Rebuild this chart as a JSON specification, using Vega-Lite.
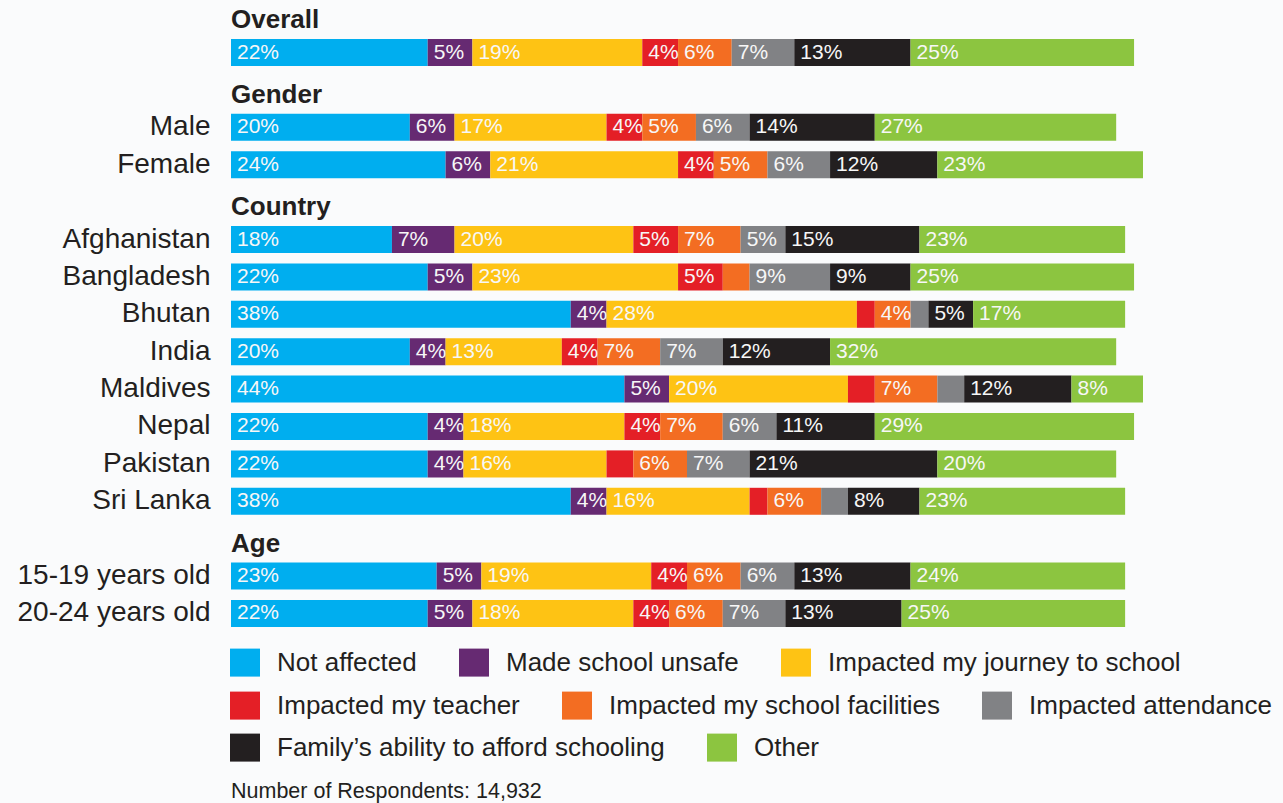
{
  "$schema": "https://vega.github.io/schema/vega-lite/v6.json",
  "autosize": {"type": "none"},
  "width": 912,
  "height": 625.4,
  "padding": {"left": 231, "top": 1.6, "right": 140, "bottom": 176},
  "background": "#fafbfc",
  "config": {
    "view": {"stroke": null},
    "font": "Liberation Sans",
    "legend": {
      "orient": "none",
      "legendX": 0,
      "direction": "horizontal",
      "padding": 0,
      "symbolType": "M-1.07,-1H1.07V1H-1.07Z",
      "symbolSize": 784,
      "symbolStrokeWidth": 0,
      "symbolOpacity": 1,
      "labelFontSize": 26,
      "labelColor": "#231f20",
      "labelOffset": 18,
      "labelLimit": 0,
      "columnPadding": 42,
      "titleLimit": 1000
    }
  },
  "resolve": {"scale": {"color": "independent"}},
  "datasets": {
    "cats": [
      {"o": 1, "cat": "Not affected"},
      {"o": 2, "cat": "Made school unsafe"},
      {"o": 3, "cat": "Impacted my journey to school"},
      {"o": 4, "cat": "Impacted my teacher"},
      {"o": 5, "cat": "Impacted my school facilities"},
      {"o": 6, "cat": "Impacted attendance"},
      {"o": 7, "cat": "Family’s ability to afford schooling"},
      {"o": 8, "cat": "Other"}
    ],
    "heads": [
      {"r": "#Overall", "t": "Overall"},
      {"r": "#Gender", "t": "Gender"},
      {"r": "#Country", "t": "Country"},
      {"r": "#Age", "t": "Age"}
    ],
    "vals": [
      {"r": "Overall", "o": 1, "v": 22, "l": "22%"},
      {"r": "Overall", "o": 2, "v": 5, "l": "5%"},
      {"r": "Overall", "o": 3, "v": 19, "l": "19%"},
      {"r": "Overall", "o": 4, "v": 4, "l": "4%"},
      {"r": "Overall", "o": 5, "v": 6, "l": "6%"},
      {"r": "Overall", "o": 6, "v": 7, "l": "7%"},
      {"r": "Overall", "o": 7, "v": 13, "l": "13%"},
      {"r": "Overall", "o": 8, "v": 25, "l": "25%"},
      {"r": "Male", "o": 1, "v": 20, "l": "20%"},
      {"r": "Male", "o": 2, "v": 5, "l": "6%"},
      {"r": "Male", "o": 3, "v": 17, "l": "17%"},
      {"r": "Male", "o": 4, "v": 4, "l": "4%"},
      {"r": "Male", "o": 5, "v": 6, "l": "5%"},
      {"r": "Male", "o": 6, "v": 6, "l": "6%"},
      {"r": "Male", "o": 7, "v": 14, "l": "14%"},
      {"r": "Male", "o": 8, "v": 27, "l": "27%"},
      {"r": "Female", "o": 1, "v": 24, "l": "24%"},
      {"r": "Female", "o": 2, "v": 5, "l": "6%"},
      {"r": "Female", "o": 3, "v": 21, "l": "21%"},
      {"r": "Female", "o": 4, "v": 4, "l": "4%"},
      {"r": "Female", "o": 5, "v": 6, "l": "5%"},
      {"r": "Female", "o": 6, "v": 7, "l": "6%"},
      {"r": "Female", "o": 7, "v": 12, "l": "12%"},
      {"r": "Female", "o": 8, "v": 23, "l": "23%"},
      {"r": "Afghanistan", "o": 1, "v": 18, "l": "18%"},
      {"r": "Afghanistan", "o": 2, "v": 7, "l": "7%"},
      {"r": "Afghanistan", "o": 3, "v": 20, "l": "20%"},
      {"r": "Afghanistan", "o": 4, "v": 5, "l": "5%"},
      {"r": "Afghanistan", "o": 5, "v": 7, "l": "7%"},
      {"r": "Afghanistan", "o": 6, "v": 5, "l": "5%"},
      {"r": "Afghanistan", "o": 7, "v": 15, "l": "15%"},
      {"r": "Afghanistan", "o": 8, "v": 23, "l": "23%"},
      {"r": "Bangladesh", "o": 1, "v": 22, "l": "22%"},
      {"r": "Bangladesh", "o": 2, "v": 5, "l": "5%"},
      {"r": "Bangladesh", "o": 3, "v": 23, "l": "23%"},
      {"r": "Bangladesh", "o": 4, "v": 5, "l": "5%"},
      {"r": "Bangladesh", "o": 5, "v": 3, "l": ""},
      {"r": "Bangladesh", "o": 6, "v": 9, "l": "9%"},
      {"r": "Bangladesh", "o": 7, "v": 9, "l": "9%"},
      {"r": "Bangladesh", "o": 8, "v": 25, "l": "25%"},
      {"r": "Bhutan", "o": 1, "v": 38, "l": "38%"},
      {"r": "Bhutan", "o": 2, "v": 4, "l": "4%"},
      {"r": "Bhutan", "o": 3, "v": 28, "l": "28%"},
      {"r": "Bhutan", "o": 4, "v": 2, "l": ""},
      {"r": "Bhutan", "o": 5, "v": 4, "l": "4%"},
      {"r": "Bhutan", "o": 6, "v": 2, "l": ""},
      {"r": "Bhutan", "o": 7, "v": 5, "l": "5%"},
      {"r": "Bhutan", "o": 8, "v": 17, "l": "17%"},
      {"r": "India", "o": 1, "v": 20, "l": "20%"},
      {"r": "India", "o": 2, "v": 4, "l": "4%"},
      {"r": "India", "o": 3, "v": 13, "l": "13%"},
      {"r": "India", "o": 4, "v": 4, "l": "4%"},
      {"r": "India", "o": 5, "v": 7, "l": "7%"},
      {"r": "India", "o": 6, "v": 7, "l": "7%"},
      {"r": "India", "o": 7, "v": 12, "l": "12%"},
      {"r": "India", "o": 8, "v": 32, "l": "32%"},
      {"r": "Maldives", "o": 1, "v": 44, "l": "44%"},
      {"r": "Maldives", "o": 2, "v": 5, "l": "5%"},
      {"r": "Maldives", "o": 3, "v": 20, "l": "20%"},
      {"r": "Maldives", "o": 4, "v": 3, "l": ""},
      {"r": "Maldives", "o": 5, "v": 7, "l": "7%"},
      {"r": "Maldives", "o": 6, "v": 3, "l": ""},
      {"r": "Maldives", "o": 7, "v": 12, "l": "12%"},
      {"r": "Maldives", "o": 8, "v": 8, "l": "8%"},
      {"r": "Nepal", "o": 1, "v": 22, "l": "22%"},
      {"r": "Nepal", "o": 2, "v": 4, "l": "4%"},
      {"r": "Nepal", "o": 3, "v": 18, "l": "18%"},
      {"r": "Nepal", "o": 4, "v": 4, "l": "4%"},
      {"r": "Nepal", "o": 5, "v": 7, "l": "7%"},
      {"r": "Nepal", "o": 6, "v": 6, "l": "6%"},
      {"r": "Nepal", "o": 7, "v": 11, "l": "11%"},
      {"r": "Nepal", "o": 8, "v": 29, "l": "29%"},
      {"r": "Pakistan", "o": 1, "v": 22, "l": "22%"},
      {"r": "Pakistan", "o": 2, "v": 4, "l": "4%"},
      {"r": "Pakistan", "o": 3, "v": 16, "l": "16%"},
      {"r": "Pakistan", "o": 4, "v": 3, "l": ""},
      {"r": "Pakistan", "o": 5, "v": 6, "l": "6%"},
      {"r": "Pakistan", "o": 6, "v": 7, "l": "7%"},
      {"r": "Pakistan", "o": 7, "v": 21, "l": "21%"},
      {"r": "Pakistan", "o": 8, "v": 20, "l": "20%"},
      {"r": "Sri Lanka", "o": 1, "v": 38, "l": "38%"},
      {"r": "Sri Lanka", "o": 2, "v": 4, "l": "4%"},
      {"r": "Sri Lanka", "o": 3, "v": 16, "l": "16%"},
      {"r": "Sri Lanka", "o": 4, "v": 2, "l": ""},
      {"r": "Sri Lanka", "o": 5, "v": 6, "l": "6%"},
      {"r": "Sri Lanka", "o": 6, "v": 3, "l": ""},
      {"r": "Sri Lanka", "o": 7, "v": 8, "l": "8%"},
      {"r": "Sri Lanka", "o": 8, "v": 23, "l": "23%"},
      {"r": "15-19 years old", "o": 1, "v": 23, "l": "23%"},
      {"r": "15-19 years old", "o": 2, "v": 5, "l": "5%"},
      {"r": "15-19 years old", "o": 3, "v": 19, "l": "19%"},
      {"r": "15-19 years old", "o": 4, "v": 4, "l": "4%"},
      {"r": "15-19 years old", "o": 5, "v": 6, "l": "6%"},
      {"r": "15-19 years old", "o": 6, "v": 6, "l": "6%"},
      {"r": "15-19 years old", "o": 7, "v": 13, "l": "13%"},
      {"r": "15-19 years old", "o": 8, "v": 24, "l": "24%"},
      {"r": "20-24 years old", "o": 1, "v": 22, "l": "22%"},
      {"r": "20-24 years old", "o": 2, "v": 5, "l": "5%"},
      {"r": "20-24 years old", "o": 3, "v": 18, "l": "18%"},
      {"r": "20-24 years old", "o": 4, "v": 4, "l": "4%"},
      {"r": "20-24 years old", "o": 5, "v": 6, "l": "6%"},
      {"r": "20-24 years old", "o": 6, "v": 7, "l": "7%"},
      {"r": "20-24 years old", "o": 7, "v": 13, "l": "13%"},
      {"r": "20-24 years old", "o": 8, "v": 25, "l": "25%"}
    ]
  },
  "data": {"name": "vals"},
  "transform": [
    {"lookup": "o", "from": {"data": {"name": "cats"}, "key": "o", "fields": ["cat"]}},
    {"stack": "v", "groupby": ["r"], "sort": [{"field": "o", "order": "ascending"}], "as": ["x0", "x1"]}
  ],
  "layer": [
    {
      "transform": [{"filter": "datum.o <= 3"}],
      "mark": {"type": "bar"},
      "encoding": {
        "y": {
          "field": "r",
          "type": "nominal",
          "scale": {
            "domain": ["#Overall", "Overall", "#Gender", "Male", "Female", "#Country", "Afghanistan", "Bangladesh", "Bhutan", "India", "Maldives", "Nepal", "Pakistan", "Sri Lanka", "#Age", "15-19 years old", "20-24 years old"],
            "paddingInner": 0.278,
            "paddingOuter": 0
          },
          "axis": {
            "title": null,
            "domain": false,
            "ticks": false,
            "labelFontSize": 28,
            "labelColor": "#231f20",
            "labelPadding": 21,
            "labelLimit": 0,
            "labelExpr": "indexof(datum.value, '#') == 0 || datum.value == 'Overall' ? '' : datum.value"
          }
        },
        "x": {"field": "x0", "type": "quantitative", "scale": {"domain": [0, 102], "nice": false}, "axis": null},
        "x2": {"field": "x1"},
        "color": {
          "field": "cat",
          "type": "nominal",
          "scale": {
            "domain": ["Not affected", "Made school unsafe", "Impacted my journey to school"],
            "range": ["#00aeef", "#662a72", "#fec314"]
          },
          "legend": {"title": null, "legendY": 647}
        }
      }
    },
    {
      "transform": [{"filter": "datum.o >= 4 && datum.o <= 6"}],
      "mark": {"type": "bar"},
      "encoding": {
        "y": {"field": "r", "type": "nominal"},
        "x": {"field": "x0", "type": "quantitative"},
        "x2": {"field": "x1"},
        "color": {
          "field": "cat",
          "type": "nominal",
          "scale": {
            "domain": ["Impacted my teacher", "Impacted my school facilities", "Impacted attendance"],
            "range": ["#e41f26", "#f36d22", "#818285"]
          },
          "legend": {"title": null, "legendY": 690}
        }
      }
    },
    {
      "transform": [{"filter": "datum.o >= 7"}],
      "mark": {"type": "bar"},
      "encoding": {
        "y": {"field": "r", "type": "nominal"},
        "x": {"field": "x0", "type": "quantitative"},
        "x2": {"field": "x1"},
        "color": {
          "field": "cat",
          "type": "nominal",
          "scale": {
            "domain": ["Family’s ability to afford schooling", "Other"],
            "range": ["#231f20", "#8cc540"]
          },
          "legend": {
            "legendY": 732,
            "title": "Number of Respondents: 14,932",
            "titleOrient": "bottom",
            "titleAnchor": "start",
            "titleFontSize": 21.5,
            "titleFontWeight": "normal",
            "titleColor": "#231f20",
            "titlePadding": 19
          }
        }
      }
    },
    {
      "mark": {"type": "text", "align": "left", "baseline": "middle", "dx": 6, "fontSize": 21, "color": "#f7f7f7"},
      "encoding": {
        "y": {"field": "r", "type": "nominal"},
        "x": {"field": "x0", "type": "quantitative"},
        "text": {"field": "l"}
      }
    },
    {
      "data": {"name": "heads"},
      "mark": {"type": "text", "align": "left", "baseline": "alphabetic", "dy": 13, "fontSize": 26, "fontWeight": "bold", "color": "#231f20"},
      "encoding": {
        "y": {"field": "r", "type": "nominal"},
        "x": {"datum": 0},
        "text": {"field": "t"}
      }
    }
  ]
}
